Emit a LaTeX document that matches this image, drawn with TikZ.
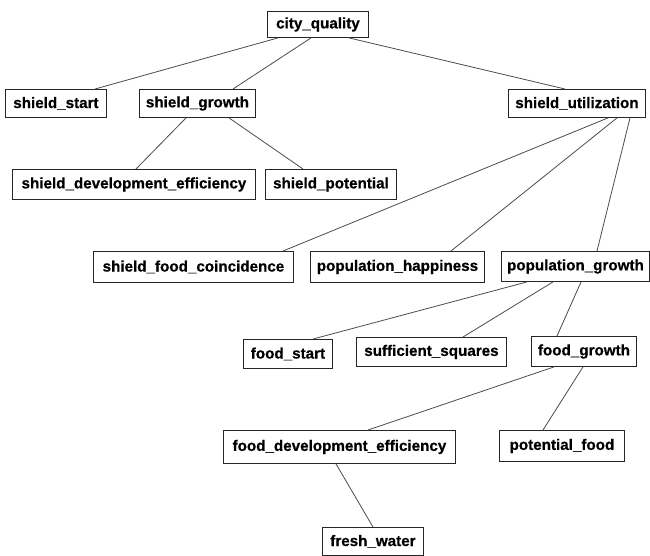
\documentclass[tikz,border=0pt]{standalone}
\usepackage{fontspec}
\setmainfont{Liberation Sans}[BoldFeatures={FakeBold=0.6}]
\begin{document}
\begin{tikzpicture}[x=1pt,y=-1pt,
  box/.style={draw=black!85, line width=0.9pt, anchor=north west, inner sep=0pt,
    font=\fontsize{15.2}{15.2}\selectfont\bfseries, text=black},
  link/.style={draw=black!70, line width=0.8pt}]
\fill[white] (0,0) rectangle (650,555);
\useasboundingbox (0,0) rectangle (650,555);
\node[box, minimum width=101, minimum height=26] (cq) at (267,11) {city\_quality};
\node[box, minimum width=101, minimum height=28] (ss) at (5,89) {shield\_start};
\node[box, minimum width=116, minimum height=28] (sg) at (139,89) {shield\_growth};
\node[box, minimum width=137, minimum height=28] (su) at (508,89) {shield\_utilization};
\node[box, minimum width=243, minimum height=30] (sde) at (12,169) {shield\_development\_efficiency};
\node[box, minimum width=131, minimum height=30] (sp) at (265,169) {shield\_potential};
\node[box, minimum width=200, minimum height=31] (sfc) at (93,251) {shield\_food\_coincidence};
\node[box, minimum width=174, minimum height=31] (ph) at (310,251) {population\_happiness};
\node[box, minimum width=148, minimum height=30] (pg) at (501,251) {population\_growth};
\node[box, minimum width=89, minimum height=29] (fs) at (243,339) {food\_start};
\node[box, minimum width=150, minimum height=29] (sq) at (356,337) {sufficient\_squares};
\node[box, minimum width=105, minimum height=30] (fg) at (531,336) {food\_growth};
\node[box, minimum width=232, minimum height=33] (fde) at (223,430) {food\_development\_efficiency};
\node[box, minimum width=125, minimum height=31] (pf) at (499,430) {potential\_food};
\node[box, minimum width=101, minimum height=28] (fw) at (322,527) {fresh\_water};
\draw[link] ([xshift=11]cq.south west) -- ([xshift=90]ss.north west);
\draw[link] ([xshift=44]cq.south west) -- ([xshift=94]sg.north west);
\draw[link] ([xshift=82]cq.south west) -- ([xshift=57]su.north west);
\draw[link] ([xshift=47]sg.south west) -- ([xshift=124]sde.north west);
\draw[link] ([xshift=90]sg.south west) -- ([xshift=38]sp.north west);
\draw[link] ([xshift=100]su.south west) -- ([xshift=190]sfc.north west);
\draw[link] ([xshift=109]su.south west) -- ([xshift=141]ph.north west);
\draw[link] ([xshift=122]su.south west) -- ([xshift=96]pg.north west);
\draw[link] ([xshift=26]pg.south west) -- ([xshift=70]fs.north west);
\draw[link] ([xshift=52]pg.south west) -- ([xshift=107]sq.north west);
\draw[link] ([xshift=80]pg.south west) -- ([xshift=26]fg.north west);
\draw[link] ([xshift=23]fg.south west) -- ([xshift=145]fde.north west);
\draw[link] ([xshift=52]fg.south west) -- ([xshift=44]pf.north west);
\draw[link] ([xshift=113]fde.south west) -- ([xshift=51]fw.north west);
\end{tikzpicture}
\end{document}
